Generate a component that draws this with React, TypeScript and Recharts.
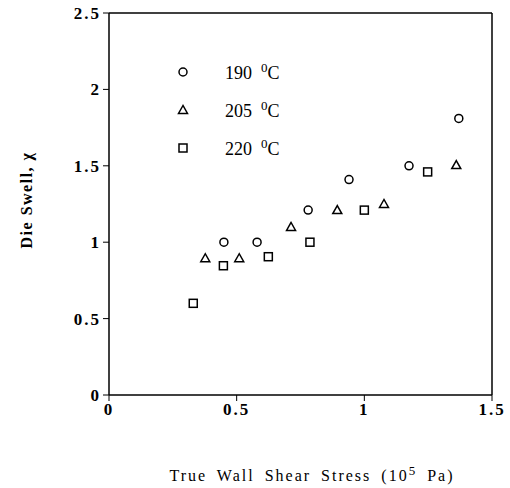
import React from 'react';
import { ScatterChart, Scatter, XAxis, YAxis, ReferenceLine } from 'recharts';

const X_TICKS = [0, 0.5, 1, 1.5];
const Y_TICKS = [0, 0.5, 1, 1.5, 2, 2.5];

const STRESS_190 = [0.45, 0.58, 0.78, 0.94, 1.175, 1.37];
const SWELL_190 = [1.0, 1.0, 1.21, 1.41, 1.5, 1.81];
const STRESS_205 = [0.377, 0.51, 0.713, 0.894, 1.077, 1.36];
const SWELL_205 = [0.895, 0.895, 1.1, 1.21, 1.25, 1.505];
const STRESS_220 = [0.33, 0.448, 0.624, 0.787, 1.0, 1.248];
const SWELL_220 = [0.6, 0.846, 0.905, 1.0, 1.21, 1.46];
const SERIES = ['190', '205', '220'];

const zip = (xs: number[], ys: number[]) => xs.map((x, i) => ({ x, y: ys[i] }));

const FONT = '"Liberation Serif", "Times New Roman", serif';

const Circle = (p: any) => <circle cx={p.cx} cy={p.cy} r={4} fill="#fff" stroke="#000" strokeWidth={1.5} />;
const Tri = (p: any) => (
  <polygon
    points={`${p.cx},${p.cy - 4.5} ${p.cx - 4.5},${p.cy + 3.5} ${p.cx + 4.5},${p.cy + 3.5}`}
    fill="#fff" stroke="#000" strokeWidth={1.5}
  />
);
const Sq = (p: any) => <rect x={p.cx - 4} y={p.cy - 4} width={8} height={8} fill="#fff" stroke="#000" strokeWidth={1.5} />;

const MARKERS = [
  <circle cx={6} cy={6} r={4} fill="#fff" stroke="#000" strokeWidth={1.5} />,
  <polygon points="6,1.5 1.5,9.5 10.5,9.5" fill="#fff" stroke="#000" strokeWidth={1.5} />,
  <rect x={2} y={2} width={8} height={8} fill="#fff" stroke="#000" strokeWidth={1.5} />,
];

// legend drawn over the plot, top-left
const LegendBox = () => (
  <div style={{ position: 'absolute', left: 177, top: 53, fontFamily: FONT, fontSize: 18, color: '#000' }}>
    {SERIES.map((s, i) => (
      <div key={s} style={{ display: 'flex', alignItems: 'center', height: 38 }}>
        <svg width={12} height={12} style={{ marginRight: 36 }}>{MARKERS[i]}</svg>
        <span>
          {s}&nbsp;&nbsp;<sup style={{ fontSize: 13 }}>0</sup>C
        </span>
      </div>
    ))}
  </div>
);

const tickStyle = { fontFamily: FONT, fontSize: 17, fontWeight: 'bold', fill: '#000', letterSpacing: 2 };

export default function App() {
  return (
    <div style={{ position: 'fixed', left: 0, top: 0, width: 510, height: 488, background: '#fff' }}>
      <ScatterChart width={510} height={488} margin={{ top: 13, right: 18, bottom: 63, left: 49 }}>
        <XAxis
          type="number" dataKey="x" domain={[0, 1.5]} ticks={X_TICKS} height={30}
          axisLine={{ stroke: '#000', strokeWidth: 1.5 }} tickLine={{ stroke: '#000' }}
          tick={tickStyle} tickFormatter={(v: number) => String(v)} allowDataOverflow
        />
        <YAxis
          type="number" dataKey="y" domain={[0, 2.5]} ticks={Y_TICKS} width={60}
          axisLine={{ stroke: '#000', strokeWidth: 1.5 }} tickLine={{ stroke: '#000' }}
          tick={tickStyle} tickFormatter={(v: number) => String(v)} allowDataOverflow
        />
        <ReferenceLine y={2.5} stroke="#000" strokeWidth={1.5} />
        <ReferenceLine x={1.5} stroke="#000" strokeWidth={1.5} />
        <Scatter data={zip(STRESS_190, SWELL_190)} shape={Circle} isAnimationActive={false} />
        <Scatter data={zip(STRESS_205, SWELL_205)} shape={Tri} isAnimationActive={false} />
        <Scatter data={zip(STRESS_220, SWELL_220)} shape={Sq} isAnimationActive={false} />
        <text
          x={26} y={200} transform="rotate(-90 26 200)" textAnchor="middle" dominantBaseline="central"
          style={{ fontFamily: FONT, fontSize: 16, fontWeight: 'bold', letterSpacing: 1.5 }}
        >
          Die Swell, χ
        </text>
        <text
          x={312} y={481} textAnchor="middle"
          style={{ fontFamily: FONT, fontSize: 16, letterSpacing: 2, wordSpacing: 4 }}
        >
          True Wall Shear Stress (10<tspan dy={-6} fontSize={13}>5</tspan><tspan dy={6}> Pa)</tspan>
        </text>
      </ScatterChart>
      <LegendBox />
    </div>
  );
}
